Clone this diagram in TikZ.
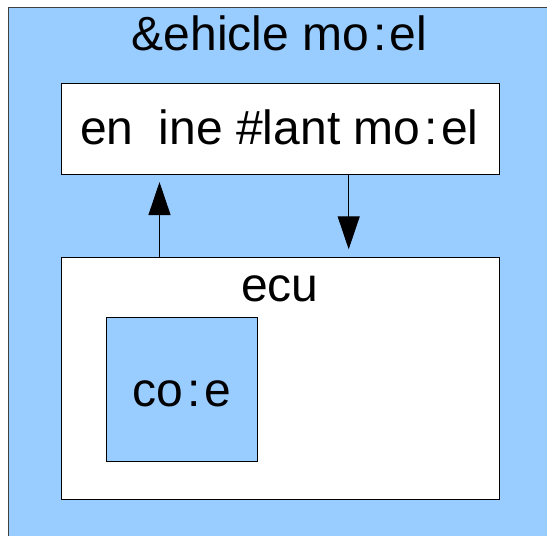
\documentclass[tikz,border=0pt]{standalone}
\usepackage{fontspec}
\setmainfont{Liberation Sans}
\usetikzlibrary{arrows.meta}
\definecolor{skyfill}{HTML}{99CCFF}
\newcommand\mycolon{\kern4pt:\kern3.5pt}
\tikzset{
  boxw/.style={draw=black, line width=1pt, fill=white, rectangle, inner sep=0pt, outer sep=0pt},
  boxb/.style={draw=black, line width=1pt, fill=skyfill, rectangle, inner sep=0pt, outer sep=0pt},
  lbl/.style={anchor=base, inner sep=0pt, font=\fontsize{48}{58}\selectfont},
  flow/.style={line width=1pt, -{Triangle[length=33pt,width=22pt]}, shorten >=8pt}
}
\begin{document}
\begin{tikzpicture}[x=1pt,y=-1pt]
\useasboundingbox (0,0) rectangle (547,536);
\clip (0,0) rectangle (547,536);
\node[boxb, draw=black!75, anchor=north west, minimum width=600pt, minimum height=600pt] (vm) at (8,7) {};
\node[lbl] (vmt) at (279.5,50.7) {\&ehicle mo\mycolon el};
\node[boxw, minimum width=438.3pt, minimum height=90.3pt] (eng) at (280.2,128.9) {};
\node[lbl] (engt) at (279.5,144.3) {en\hspace{25.3pt}ine \#lant mo\mycolon el};
\node[boxw, minimum width=438.3pt, minimum height=242pt] (ecu) at (280.2,378.3) {};
\node[lbl] (ecut) at (279.7,301.7) {ecu};
\node[boxb, minimum width=151.4pt, minimum height=144pt] (code) at (182,389.3) {};
\node[lbl] (codet) at (181.7,406.7) {co\mycolon e};
\coordinate (upx) at (159.5,0);
\coordinate (dnx) at (348.7,0);
\draw[flow] (ecu.north -| upx) -- (eng.south -| upx);
\draw[flow] (eng.south -| dnx) -- (ecu.north -| dnx);
\end{tikzpicture}
\end{document}
